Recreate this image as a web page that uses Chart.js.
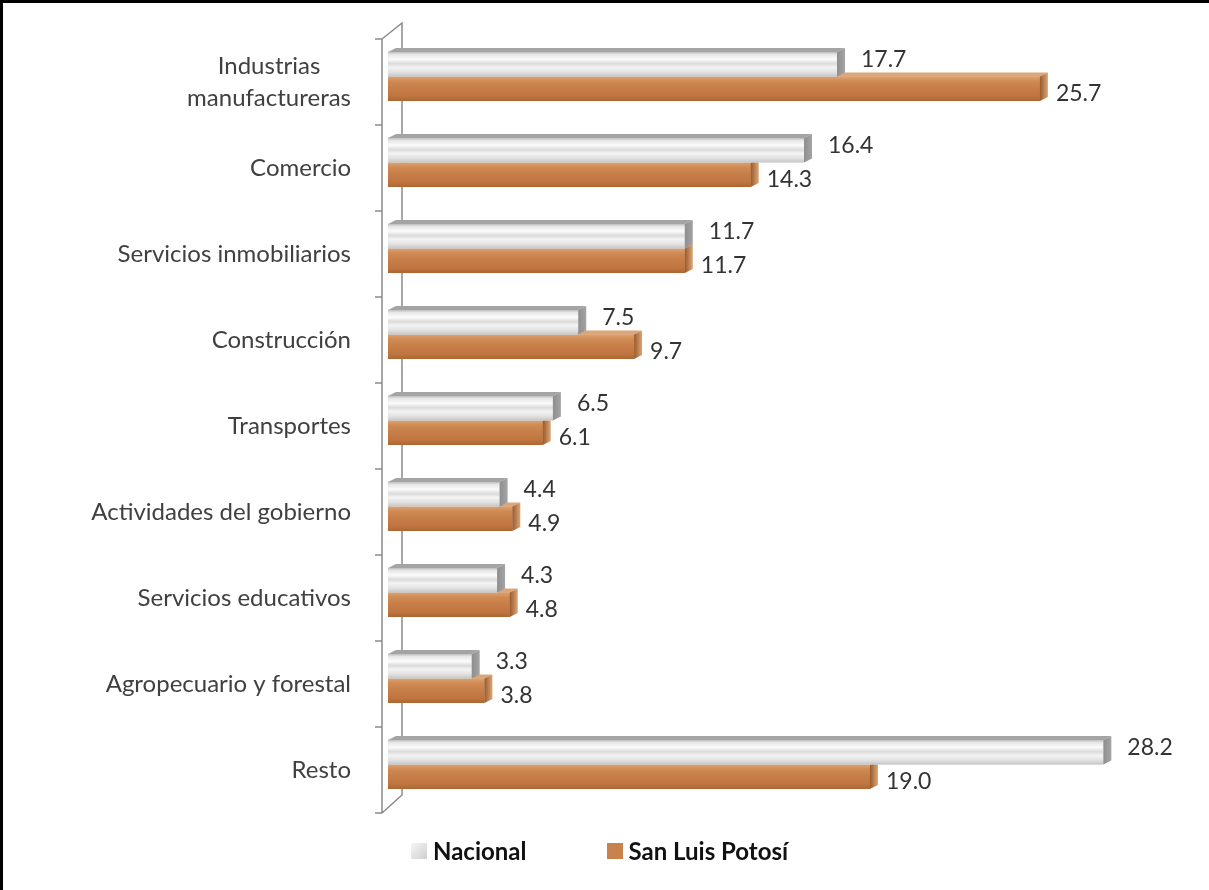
<!DOCTYPE html>
<html>
<head>
<meta charset="utf-8">
<script src="https://cdn.jsdelivr.net/npm/chart.js@4.4.1/dist/chart.umd.min.js"></script>
<style>
    html, body { margin: 0; padding: 0; background: #fff; }
    #wrap { position: relative; width: 1209px; height: 890px; }
    #frame {
        position: absolute; left: 0; top: 0; width: 1209px; height: 890px;
        box-sizing: border-box; border-top: 3px solid #000; border-left: 3px solid #000;
        pointer-events: none;
    }
    #legend {
        position: absolute; left: 411px; top: 836px;
        display: flex; align-items: center;
        font-family: Lato, sans-serif; font-weight: bold; font-size: 24px; color: #111;
    }
    #legend .item { display: flex; align-items: center; margin-right: 80px; }
    #legend .box { width: 16px; height: 16px; margin-right: 6px; }
</style>
</head>
<body>
<div id="wrap">
    <canvas id="sectores-chart" width="1209" height="890"></canvas>
    <div id="legend"></div>
    <div id="frame"></div>
</div>
<script>
const categories = [
    ['Industrias', 'manufactureras'],
    'Comercio',
    'Servicios inmobiliarios',
    'Construcción',
    'Transportes',
    'Actividades del gobierno',
    'Servicios educativos',
    'Agropecuario y forestal',
    'Resto'
];
const seriesNames = ['Nacional', 'San Luis Potosí'];
const nacionalData = [17.7, 16.4, 11.7, 7.5, 6.5, 4.4, 4.3, 3.3, 28.2];
const sanLuisData = [25.7, 14.3, 11.7, 9.7, 6.1, 4.9, 4.8, 3.8, 19.0];
const axisMax = 30;

// bar depth for the 3d look
const depthX = 8, depthY = -4;

const barStyles = [
    { // Nacional: silver / marble
        fill: '#e4e4e4',
        legend: 'linear-gradient(135deg, #f6f6f6, #cfcfcf)',
        stops: [[0, '#bdbdbd'], [0.1, '#e6e6e6'], [0.3, '#fbfbfb'], [0.48, '#dadada'],
                [0.62, '#f4f4f4'], [0.82, '#e2e2e2'], [1, '#c6c6c6']],
        top: '#a4a4a4', side: '#8e8e8e'
    },
    { // San Luis Potosí: copper
        fill: '#c67c46',
        legend: '#c8834d',
        stops: [[0, '#dea171'], [0.2, '#cf8a53'], [0.5, '#c67d47'], [0.8, '#c07541'], [1, '#ab6733']],
        top: '#dca676', side: '#9a5a2b'
    }
];

// 3d axis wall drawn behind the bars
const axisWall = {
    id: 'axisWall',
    beforeDatasetsDraw(chart) {
        const { ctx, chartArea: a } = chart;
        const step = (a.bottom - a.top) / categories.length;
        const fx = a.left - 6, fTop = a.top + 5.5, fBot = a.bottom + 5.5;
        const bx = fx + 20, bTop = fTop - 16, bBot = fBot - 18;
        ctx.save();
        ctx.strokeStyle = '#8a8a8a';
        ctx.lineWidth = 1.5;
        ctx.beginPath();
        ctx.moveTo(fx, fTop); ctx.lineTo(fx, fBot);
        ctx.moveTo(fx, fTop); ctx.lineTo(bx, bTop); ctx.lineTo(bx, bBot); ctx.lineTo(fx, fBot);
        for (let i = 0; i <= categories.length; i++) {
            const y = fTop + i * step;
            ctx.moveTo(fx - 7, y); ctx.lineTo(fx, y);
        }
        ctx.stroke();
        ctx.restore();
    }
};

// shading, top face and end cap on every bar
const bar3d = {
    id: 'bar3d',
    afterDatasetDraw(chart, args) {
        const ctx = chart.ctx;
        const st = barStyles[args.index];
        ctx.save();
        args.meta.data.forEach(bar => {
            const { x, y, base, height } = bar.getProps(['x', 'y', 'base', 'height'], true);
            const top = y - height / 2, bot = y + height / 2;
            const g = ctx.createLinearGradient(0, top, 0, bot);
            st.stops.forEach(s => g.addColorStop(s[0], s[1]));
            ctx.fillStyle = g;
            ctx.fillRect(base, top, x - base, height);

            ctx.fillStyle = st.top;
            ctx.beginPath();
            ctx.moveTo(base, top); ctx.lineTo(x, top);
            ctx.lineTo(x + depthX, top + depthY); ctx.lineTo(base + depthX, top + depthY);
            ctx.closePath(); ctx.fill();

            const sg = ctx.createLinearGradient(x, 0, x + depthX, 0);
            sg.addColorStop(0, st.side); sg.addColorStop(1, st.top);
            ctx.fillStyle = sg;
            ctx.beginPath();
            ctx.moveTo(x, top); ctx.lineTo(x + depthX, top + depthY);
            ctx.lineTo(x + depthX, bot + depthY); ctx.lineTo(x, bot);
            ctx.closePath(); ctx.fill();
        });
        ctx.restore();
    }
};

// value labels next to the bars and category names on the left
const labels = {
    id: 'labels',
    afterDraw(chart) {
        const { ctx, chartArea: a } = chart;
        const yScale = chart.scales.y;
        ctx.save();
        ctx.fillStyle = '#333';
        ctx.font = '23px Lato, sans-serif';
        ctx.textBaseline = 'middle';
        ctx.textAlign = 'left';
        const gapX = [24, 16], gapY = [-5, 5];
        chart.data.datasets.forEach((ds, di) => {
            chart.getDatasetMeta(di).data.forEach((bar, i) => {
                ctx.fillText(ds.data[i].toFixed(1), bar.x + gapX[di], bar.y + gapY[di]);
            });
        });

        ctx.fillStyle = '#404040';
        ctx.font = '24px Lato, sans-serif';
        ctx.textAlign = 'center';
        const right = a.left - 37;
        const lineH = 32;
        categories.forEach((cat, i) => {
            const lines = Array.isArray(cat) ? cat : [cat];
            const w = Math.max(...lines.map(l => ctx.measureText(l).width));
            const cy = yScale.getPixelForValue(i) + 5.5;
            lines.forEach((l, k) => {
                ctx.fillText(l, right - w / 2, cy + (k - (lines.length - 1) / 2) * lineH);
            });
        });
        ctx.restore();
    }
};

const ctx = document.getElementById('sectores-chart').getContext('2d');
const sectoresChart = new Chart(ctx, {
    type: 'bar',
    data: {
        labels: categories,
        datasets: [{
            label: seriesNames[0],
            data: nacionalData,
            backgroundColor: barStyles[0].fill,
            categoryPercentage: 0.57,
            barPercentage: 1
        }, {
            label: seriesNames[1],
            data: sanLuisData,
            backgroundColor: barStyles[1].fill,
            categoryPercentage: 0.57,
            barPercentage: 1
        }]
    },
    options: {
        indexAxis: 'y',
        responsive: false,
        animation: false,
        layout: {
            padding: { left: 388, right: 60, top: 33.5, bottom: 82.5 }
        },
        scales: {
            x: { display: false, min: 0, max: axisMax },
            y: { display: false }
        },
        plugins: {
            legend: { display: false },
            tooltip: { enabled: false }
        }
    },
    plugins: [axisWall, bar3d, labels]
});

// legend under the chart
const legendEl = document.getElementById('legend');
sectoresChart.data.datasets.forEach((ds, i) => {
    const item = document.createElement('div');
    item.className = 'item';
    const box = document.createElement('span');
    box.className = 'box';
    box.style.background = barStyles[i].legend;
    const txt = document.createElement('span');
    txt.textContent = ds.label;
    item.appendChild(box);
    item.appendChild(txt);
    legendEl.appendChild(item);
});
</script>
</body>
</html>
